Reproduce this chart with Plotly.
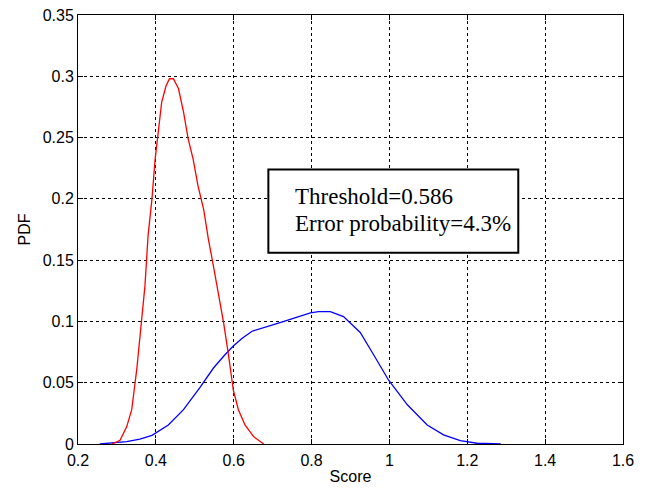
import plotly.graph_objects as go

# Red curve (PDF of first class)
red_x = [0.287, 0.308, 0.325, 0.338, 0.351, 0.363, 0.372, 0.380, 0.390, 0.398, 0.407, 0.415,
         0.426, 0.435, 0.445, 0.458, 0.471, 0.483, 0.496, 0.508, 0.523, 0.535, 0.548, 0.561,
         0.574, 0.586, 0.599, 0.612, 0.629, 0.651, 0.677]
red_y = [0.0, 0.003, 0.014, 0.028, 0.061, 0.101, 0.129, 0.170, 0.200, 0.232, 0.260, 0.279,
         0.292, 0.298, 0.298, 0.290, 0.271, 0.249, 0.232, 0.211, 0.191, 0.167, 0.145, 0.123,
         0.099, 0.074, 0.044, 0.028, 0.0155, 0.006, 0.0]

# Blue curve (PDF of second class)
blue_x = [0.256, 0.325, 0.359, 0.390, 0.432, 0.471, 0.513, 0.548, 0.578, 0.599, 0.621, 0.647,
          0.719, 0.797, 0.818, 0.848, 0.882, 0.925, 0.959, 0.998, 1.046, 1.097, 1.139,
          1.182, 1.225, 1.286]
blue_y = [0.0, 0.002, 0.004, 0.007, 0.0155, 0.028, 0.046, 0.062, 0.073, 0.080, 0.086, 0.092,
          0.099, 0.107, 0.108, 0.108, 0.104, 0.091, 0.073, 0.052, 0.032, 0.0155, 0.0074,
          0.0027, 0.0006, 0.0]

x_ticks = [0.2, 0.4, 0.6, 0.8, 1.0, 1.2, 1.4, 1.6]
x_tick_labels = ["0.2", "0.4", "0.6", "0.8", "1", "1.2", "1.4", "1.6"]
y_ticks = [0, 0.05, 0.1, 0.15, 0.2, 0.25, 0.3, 0.35]
y_tick_labels = ["0", "0.05", "0.1", "0.15", "0.2", "0.25", "0.3", "0.35"]

box_line1 = "Threshold=0.586"
box_line2 = "Error probability=4.3%"

SANS = "Liberation Sans, Arial, Helvetica, sans-serif"
SERIF = "Liberation Serif, Times New Roman, serif"

fig = go.Figure()
fig.add_trace(go.Scatter(x=blue_x, y=blue_y, mode="lines",
                         line=dict(color="#0000ff", width=1.3), showlegend=False))
fig.add_trace(go.Scatter(x=red_x, y=red_y, mode="lines",
                         line=dict(color="#ff0000", width=1.3), showlegend=False))

axis_common = dict(
    showline=True, linecolor="black", linewidth=1, mirror="ticks",
    ticks="inside", ticklen=5, tickcolor="black",
    showgrid=True, gridcolor="black", gridwidth=1, griddash="3px,3px",
    zeroline=False, automargin=False,
    tickfont=dict(family=SANS, size=16, color="black"),
)

fig.update_xaxes(range=[0.2, 1.6], tickvals=x_ticks, ticktext=x_tick_labels,
                 ticklabelstandoff=2,
                 title=dict(text="Score", standoff=2,
                            font=dict(family=SANS, size=16, color="black")),
                 **axis_common)
fig.update_yaxes(range=[0, 0.35], tickvals=y_ticks, ticktext=y_tick_labels,
                 title=dict(text="PDF", standoff=8,
                            font=dict(family=SANS, size=16, color="black")),
                 **axis_common)

fig.add_shape(type="rect", xref="x", yref="y", x0=0.689, x1=1.331, y0=0.156, y1=0.224,
              line=dict(color="black", width=2), fillcolor="white", layer="above")
fig.add_annotation(x=0.752, y=0.2016, xref="x", yref="y", xanchor="left", yanchor="middle",
                   text=box_line1, showarrow=False, align="left",
                   font=dict(family=SERIF, size=23, color="black"))
fig.add_annotation(x=0.752, y=0.1796, xref="x", yref="y", xanchor="left", yanchor="middle",
                   text=box_line2, showarrow=False, align="left",
                   font=dict(family=SERIF, size=23, color="black"))

fig.update_layout(
    width=646, height=490,
    margin=dict(l=78, r=23, t=15, b=46),
    paper_bgcolor="white", plot_bgcolor="white",
)

fig.write_html("out.html")
